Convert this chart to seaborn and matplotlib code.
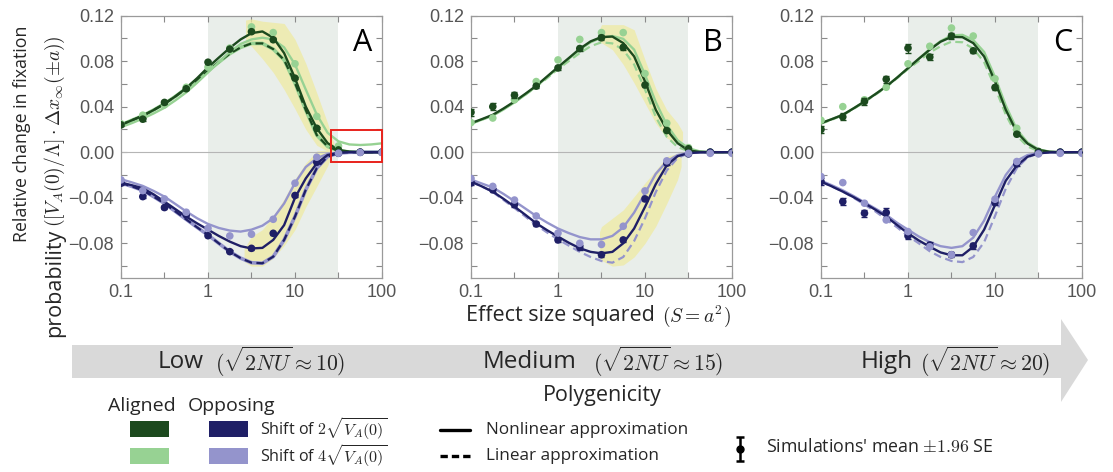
import matplotlib
matplotlib.use("Agg")
import matplotlib.pyplot as plt
import seaborn as sns
from matplotlib.patches import Rectangle, Polygon
from matplotlib.lines import Line2D
from matplotlib.ticker import FixedLocator, FixedFormatter, NullFormatter

sns.set_theme(style="ticks")
plt.rcParams["font.family"] = ["Open Sans", "DejaVu Sans"]
plt.rcParams["mathtext.fontset"] = "cm"

# ---------------------------------------------------------------- data
# effect size squared at the simulated points (quarter decades)
S_POINTS = [0.1, 0.178, 0.316, 0.562, 1.0, 1.78, 3.16, 5.62, 10.0, 17.8, 31.6, 56.2, 100.0]
# effect size squared used for the analytic curves (eighth decades)
S_CURVE = [0.1, 0.133, 0.178, 0.237, 0.316, 0.422, 0.562, 0.75, 1.0, 1.33, 1.78, 2.37,
           3.16, 4.22, 5.62, 7.5, 10.0, 13.3, 17.8, 23.7, 31.6, 42.2, 56.2, 75.0, 100.0]

# Panel A -- low polygenicity
A_ALN2 = [0.024, 0.028, 0.032, 0.037, 0.0425, 0.049, 0.0563, 0.065, 0.0745, 0.083, 0.0915, 0.099,
          0.1045, 0.106, 0.1005, 0.087, 0.065, 0.040, 0.021, 0.008, 0.002, 0.0005, 0, 0, 0]
A_ALN4 = [0.022, 0.0255, 0.0295, 0.034, 0.039, 0.0455, 0.0525, 0.061, 0.070, 0.079, 0.088, 0.095,
          0.099, 0.1005, 0.099, 0.092, 0.077, 0.055, 0.033, 0.017, 0.0095, 0.0068, 0.0063, 0.0068, 0.0078]
A_ALN_LIN = [0.024, 0.028, 0.032, 0.037, 0.0425, 0.049, 0.056, 0.0635, 0.0715, 0.079, 0.0865, 0.092,
             0.0955, 0.0955, 0.0905, 0.081, 0.0607, 0.037, 0.015, 0.005, 0.0012, 0.0002, 0, 0, 0]
A_OPP2 = [-0.0267, -0.029, -0.0316, -0.037, -0.0434, -0.050, -0.0565, -0.0625, -0.068, -0.0735, -0.0785, -0.0825,
          -0.0845, -0.084, -0.077, -0.064, -0.040, -0.023, -0.0097, -0.0025, -0.0005, 0, 0, 0, 0]
A_OPP4 = [-0.0237, -0.0265, -0.0296, -0.034, -0.039, -0.0455, -0.052, -0.058, -0.063, -0.0665, -0.0688, -0.0697,
          -0.068, -0.0645, -0.058, -0.045, -0.027, -0.013, -0.0053, -0.0015, -0.0003, 0, 0, 0, 0]
A_OPP_LIN = [-0.027, -0.030, -0.0335, -0.039, -0.045, -0.052, -0.059, -0.066, -0.0727, -0.080, -0.0873, -0.093,
             -0.097, -0.0975, -0.0917, -0.077, -0.0565, -0.033, -0.014, -0.0038, -0.0008, -0.0001, 0, 0, 0]
A_ALN2_PTS = [0.024, 0.029, 0.0437, 0.0557, 0.079, 0.0905, 0.1058, 0.0987, 0.065, 0.021, 0.002, 0.0, 0.0]
A_ALN4_PTS = [0.025, 0.0325, 0.0416, 0.057, 0.0747, 0.0914, 0.110, 0.105, 0.0776, 0.0314, 0.0055, 0.0, 0.0]
A_OPP2_PTS = [-0.0272, -0.039, -0.0486, -0.055, -0.0733, -0.0873, -0.0844, -0.0712, -0.038, -0.0088, -0.001, 0.0, 0.0]
A_OPP4_PTS = [-0.0243, -0.0337, -0.041, -0.0527, -0.0668, -0.0735, -0.072, -0.0589, -0.0272, -0.0044, -0.0009, -0.0003, -0.0003]
A_ALN2_ERR = [0.0012, 0.0012, 0.0012, 0.0012, 0.0012, 0.0012, 0.0012, 0.0012, 0.001, 0.001, 0.0005, 0, 0]
A_OPP2_ERR = [0.0012, 0.0012, 0.0012, 0.0012, 0.0012, 0.0012, 0.0012, 0.0012, 0.001, 0.001, 0.0005, 0, 0]
A_BAND_UP_S = [2.7, 3.16, 4.22, 5.62, 7.5, 10.0, 13.3, 17.8, 23.7, 28.0]
A_BAND_UP_HI = [0.116, 0.117, 0.115, 0.114, 0.113, 0.099, 0.078, 0.052, 0.0255, 0.008]
A_BAND_UP_LO = [0.096, 0.093, 0.082, 0.070, 0.055, 0.038, 0.020, 0.006, 0.001, 0.001]
A_BAND_DN_S = [2.6, 3.16, 4.22, 5.62, 7.5, 10.0, 13.3, 17.8, 23.7, 26.0]
A_BAND_DN_HI = [-0.085, -0.074, -0.068, -0.056, -0.041, -0.0235, -0.0095, 0.001, 0.002, 0.0]
A_BAND_DN_LO = [-0.096, -0.100, -0.100, -0.093, -0.082, -0.068, -0.048, -0.030, -0.012, -0.004]

# Panel B -- medium polygenicity
B_ALN2 = [0.0255, 0.029, 0.0328, 0.0384, 0.0445, 0.0513, 0.0583, 0.0665, 0.0747, 0.0826, 0.0908, 0.0973,
          0.1011, 0.1015, 0.0958, 0.0841, 0.0621, 0.0372, 0.0196, 0.0079, 0.0015, 0.0003, 0, 0, 0]
B_ALN4 = [0.025, 0.0285, 0.032, 0.0375, 0.0437, 0.0505, 0.0578, 0.0658, 0.074, 0.082, 0.090, 0.0965,
          0.1005, 0.102, 0.0995, 0.090, 0.068, 0.044, 0.024, 0.0105, 0.0035, 0.0008, 0.0002, 0, 0]
B_ALN_LIN = [0.025, 0.0285, 0.0325, 0.038, 0.044, 0.0505, 0.0575, 0.065, 0.073, 0.080, 0.087, 0.093,
             0.0965, 0.0955, 0.090, 0.077, 0.055, 0.031, 0.0135, 0.0045, 0.001, 0.0002, 0, 0, 0]
B_OPP2 = [-0.0258, -0.030, -0.0346, -0.041, -0.0478, -0.055, -0.0624, -0.0685, -0.0741, -0.0795, -0.0843, -0.0875,
          -0.0888, -0.0875, -0.080, -0.067, -0.048, -0.028, -0.0115, -0.0035, -0.0008, -0.0002, 0, 0, 0]
B_OPP4 = [-0.024, -0.0275, -0.031, -0.0367, -0.043, -0.0495, -0.056, -0.0618, -0.067, -0.071, -0.0745, -0.0765,
          -0.0765, -0.0735, -0.066, -0.053, -0.036, -0.019, -0.008, -0.0025, -0.0006, -0.0001, 0, 0, 0]
B_OPP_LIN = [-0.026, -0.030, -0.035, -0.042, -0.049, -0.0565, -0.064, -0.0705, -0.0765, -0.082, -0.0875, -0.092,
             -0.0955, -0.097, -0.092, -0.078, -0.058, -0.035, -0.016, -0.005, -0.001, -0.0002, 0, 0, 0]
B_ALN2_PTS = [0.035, 0.040, 0.050, 0.058, 0.074, 0.091, 0.1005, 0.092, 0.059, 0.019, 0.003, 0.0, 0.0]
B_ALN4_PTS = [0.026, 0.030, 0.046, 0.062, 0.081, 0.099, 0.105, 0.105, 0.069, 0.0255, 0.004, 0.0, 0.0]
B_OPP2_PTS = [-0.027, -0.033, -0.046, -0.063, -0.077, -0.0835, -0.090, -0.077, -0.041, -0.0097, -0.0015, 0.0, 0.0]
B_OPP4_PTS = [-0.023, -0.030, -0.042, -0.056, -0.071, -0.080, -0.081, -0.065, -0.034, -0.0076, -0.001, -0.001, -0.001]
B_ALN2_ERR = [0.003, 0.003, 0.0025, 0.002, 0.002, 0.002, 0.002, 0.002, 0.002, 0.0015, 0.001, 0, 0]
B_OPP2_ERR = [0.002, 0.002, 0.002, 0.002, 0.002, 0.002, 0.002, 0.002, 0.002, 0.0015, 0.001, 0, 0]
B_BAND_UP_S = [3.0, 3.16, 4.22, 5.62, 7.5, 10.0, 13.3, 17.8, 23.7, 27.0]
B_BAND_UP_HI = [0.108, 0.112, 0.112, 0.112, 0.1075, 0.081, 0.056, 0.037, 0.0255, 0.018]
B_BAND_UP_LO = [0.097, 0.096, 0.090, 0.077, 0.0607, 0.043, 0.0255, 0.0123, 0.008, 0.010]
B_BAND_DN_S = [3.0, 3.16, 4.22, 5.62, 7.5, 10.0, 13.3, 17.8, 23.7, 26.0]
B_BAND_DN_HI = [-0.070, -0.0653, -0.058, -0.0507, -0.039, -0.027, -0.016, -0.0038, -0.001, -0.001]
B_BAND_DN_LO = [-0.090, -0.095, -0.100, -0.099, -0.092, -0.080, -0.065, -0.045, -0.024, -0.0126]

# Panel C -- high polygenicity
C_ALN2 = [0.0255, 0.029, 0.0328, 0.0385, 0.0445, 0.051, 0.0577, 0.0655, 0.0738, 0.082, 0.090, 0.097,
          0.1012, 0.101, 0.0958, 0.084, 0.0621, 0.0372, 0.0176, 0.0075, 0.002, 0.0004, 0, 0, 0]
C_ALN4 = [0.0255, 0.029, 0.0328, 0.0385, 0.0445, 0.051, 0.0577, 0.0655, 0.0738, 0.082, 0.0905, 0.0975,
          0.1025, 0.103, 0.0985, 0.088, 0.066, 0.041, 0.020, 0.0085, 0.0025, 0.0005, 0, 0, 0]
C_ALN_LIN = [0.025, 0.0285, 0.0325, 0.038, 0.044, 0.0505, 0.057, 0.065, 0.073, 0.080, 0.0875, 0.093,
             0.097, 0.0965, 0.091, 0.079, 0.057, 0.033, 0.0145, 0.005, 0.001, 0.0002, 0, 0, 0]
C_OPP2 = [-0.0258, -0.030, -0.0346, -0.0395, -0.0448, -0.0505, -0.0565, -0.064, -0.0712, -0.0775, -0.083, -0.088,
          -0.0905, -0.0905, -0.083, -0.068, -0.0463, -0.025, -0.0117, -0.004, -0.001, -0.0002, 0, 0, 0]
C_OPP4 = [-0.025, -0.029, -0.0335, -0.0385, -0.044, -0.0495, -0.055, -0.062, -0.068, -0.074, -0.079, -0.0825,
          -0.084, -0.0825, -0.075, -0.060, -0.039, -0.020, -0.0075, -0.0025, -0.0006, -0.0001, 0, 0, 0]
C_OPP_LIN = [-0.026, -0.030, -0.0345, -0.040, -0.046, -0.052, -0.059, -0.066, -0.0735, -0.080, -0.087, -0.092,
             -0.0955, -0.0965, -0.092, -0.079, -0.056, -0.032, -0.014, -0.0045, -0.001, -0.0002, 0, 0, 0]
C_ALN2_PTS = [0.020, 0.031, 0.0445, 0.064, 0.0914, 0.0835, 0.102, 0.089, 0.0568, 0.0158, 0.0006, 0.0, 0.0]
C_ALN4_PTS = [0.028, 0.040, 0.046, 0.057, 0.0776, 0.093, 0.109, 0.102, 0.0645, 0.021, 0.0006, 0.0, 0.0]
C_OPP2_PTS = [-0.0258, -0.0434, -0.0536, -0.053, -0.0735, -0.0815, -0.090, -0.0823, -0.0442, -0.0103, -0.001, 0.0, 0.0]
C_OPP4_PTS = [-0.0214, -0.0267, -0.0448, -0.0595, -0.0697, -0.083, -0.090, -0.0706, -0.0413, -0.0082, -0.0015, -0.001, -0.001]
C_ALN2_ERR = [0.003, 0.003, 0.003, 0.003, 0.004, 0.003, 0.003, 0.002, 0.002, 0.002, 0.001, 0, 0]
C_OPP2_ERR = [0.003, 0.003, 0.003, 0.004, 0.003, 0.003, 0.002, 0.003, 0.002, 0.002, 0.001, 0, 0]

PANEL_LETTERS = ["A", "B", "C"]
REGIME_WORDS = ["Low", "Medium", "High"]
REGIME_VALUES = [10, 15, 20]
X_TICKS = [0.1, 1, 10, 100]
X_TICK_LABELS = ["0.1", "1", "10", "100"]
Y_TICKS = [-0.08, -0.04, 0.0, 0.04, 0.08, 0.12]
Y_TICK_LABELS = ["\u22120.08", "\u22120.04", "0.00", "0.04", "0.08", "0.12"]
SHADED_RANGE = (1.0, 31.6)
ZOOM_BOX = (25.7, -0.0083, 0.0279)   # left S, bottom y, height

# ---------------------------------------------------------------- style
DARK_GREEN = "#1c4a1e"
LIGHT_GREEN = "#97d293"
NAVY = "#1f1f66"
LILAC = "#9494cc"
SHADE = "#e9eeea"
YELLOW = "#efeaa2"
TICK_FONT = ["Liberation Sans", "DejaVu Sans"]

fig = plt.figure(figsize=(11.13, 4.72), dpi=100)
W, H = 1113, 472

# full-figure overlay used for the arrow, legend and shared labels (pixel coords)
ov = fig.add_axes([0, 0, 1, 1])
ov.set_xlim(0, W)
ov.set_ylim(H, 0)
ov.axis("off")

panel_lefts = [121, 471, 821]
panel_top, panel_w, panel_h = 15.5, 261, 262

panels = [
    dict(curves=(A_ALN2, A_ALN4, A_ALN_LIN, A_OPP2, A_OPP4, A_OPP_LIN),
         pts=(A_ALN2_PTS, A_ALN4_PTS, A_OPP2_PTS, A_OPP4_PTS), err=(A_ALN2_ERR, A_OPP2_ERR),
         bands=[(A_BAND_UP_S, A_BAND_UP_LO, A_BAND_UP_HI), (A_BAND_DN_S, A_BAND_DN_LO, A_BAND_DN_HI)],
         dark_dash=True),
    dict(curves=(B_ALN2, B_ALN4, B_ALN_LIN, B_OPP2, B_OPP4, B_OPP_LIN),
         pts=(B_ALN2_PTS, B_ALN4_PTS, B_OPP2_PTS, B_OPP4_PTS), err=(B_ALN2_ERR, B_OPP2_ERR),
         bands=[(B_BAND_UP_S, B_BAND_UP_LO, B_BAND_UP_HI), (B_BAND_DN_S, B_BAND_DN_LO, B_BAND_DN_HI)],
         dark_dash=False),
    dict(curves=(C_ALN2, C_ALN4, C_ALN_LIN, C_OPP2, C_OPP4, C_OPP_LIN),
         pts=(C_ALN2_PTS, C_ALN4_PTS, C_OPP2_PTS, C_OPP4_PTS), err=(C_ALN2_ERR, C_OPP2_ERR),
         bands=[], dark_dash=False),
]

axes = []
for k, (left, p) in enumerate(zip(panel_lefts, panels)):
    ax = fig.add_axes([left / W, 1 - (panel_top + panel_h) / H, panel_w / W, panel_h / H])
    axes.append(ax)
    ax.set_xscale("log")
    ax.set_xlim(0.1, 100)
    ax.set_ylim(-0.11, 0.12)
    ax.axvspan(*SHADED_RANGE, color=SHADE, lw=0, zorder=0)
    for s, lo, hi in p["bands"]:
        ax.fill_between(s, lo, hi, color=YELLOW, alpha=0.75, lw=0, zorder=1)
    ax.axhline(0, color="#b5b5b5", lw=0.8, zorder=1)

    aln2, aln4, aln_lin, opp2, opp4, opp_lin = p["curves"]
    # linear approximation (dashed)
    dash_pairs = [(aln_lin, LIGHT_GREEN, DARK_GREEN), (opp_lin, LILAC, NAVY)]
    for vals, light, dark in dash_pairs:
        if p["dark_dash"]:
            sns.lineplot(x=S_CURVE, y=vals, ax=ax, color=light, lw=2.6, zorder=2)
            sns.lineplot(x=S_CURVE, y=vals, ax=ax, color=dark, lw=1.6, linestyle=(0, (3.5, 2)), zorder=3)
        else:
            sns.lineplot(x=S_CURVE, y=vals, ax=ax, color=light, lw=1.6, linestyle=(0, (3.5, 2)), zorder=3)
    # nonlinear approximation (solid)
    for vals, col in [(aln4, LIGHT_GREEN), (opp4, LILAC), (aln2, DARK_GREEN), (opp2, NAVY)]:
        sns.lineplot(x=S_CURVE, y=vals, ax=ax, color=col, lw=1.7, zorder=4)

    # simulation means with error bars
    aln2_p, aln4_p, opp2_p, opp4_p = p["pts"]
    sns.scatterplot(x=S_POINTS, y=aln4_p, ax=ax, color=LIGHT_GREEN, s=30, edgecolor="none", zorder=5, legend=False)
    for vals, err, col in [(aln2_p, p["err"][0], DARK_GREEN), (opp2_p, p["err"][1], NAVY)]:
        ax.errorbar(S_POINTS, vals, yerr=err, fmt="none", ecolor=col, elinewidth=1.0, capsize=2.2,
                    capthick=1.0, zorder=5)
        sns.scatterplot(x=S_POINTS, y=vals, ax=ax, color=col, s=30, edgecolor="none", zorder=6, legend=False)
    sns.scatterplot(x=S_POINTS, y=opp4_p, ax=ax, color=LILAC, s=30, edgecolor="none", zorder=7, legend=False)

    # axes cosmetics
    ax.xaxis.set_major_locator(FixedLocator(X_TICKS))
    ax.xaxis.set_major_formatter(FixedFormatter(X_TICK_LABELS))
    ax.xaxis.set_minor_locator(FixedLocator([0.316, 3.16, 31.6]))
    ax.xaxis.set_minor_formatter(NullFormatter())
    ax.yaxis.set_major_locator(FixedLocator(Y_TICKS))
    ax.yaxis.set_major_formatter(FixedFormatter(Y_TICK_LABELS))
    ax.yaxis.set_minor_locator(FixedLocator([-0.10, -0.06, -0.02, 0.02, 0.06, 0.10]))
    ax.tick_params(which="both", direction="in", top=True, right=True, color="#8a8a8a",
                   width=0.8, labelcolor="#555555", labelsize=13, pad=5)
    ax.tick_params(which="major", length=4)
    ax.tick_params(which="minor", length=4)
    for lab in ax.get_xticklabels() + ax.get_yticklabels():
        lab.set_fontfamily(TICK_FONT)
    for sp in ax.spines.values():
        sp.set_color("#9a9a9a")
        sp.set_linewidth(0.9)
    ax.set_xlabel("")
    ax.set_ylabel("")
    ax.grid(False)
    ax.text(0.925, 0.895, PANEL_LETTERS[k], transform=ax.transAxes, ha="center", va="center",
            fontsize=22, color="black", zorder=10)

# highlighted region in panel A
zx, zy, zh = ZOOM_BOX
axes[0].add_patch(Rectangle((zx, zy), 100 - zx, zh, fill=False, edgecolor="#e8231c", lw=1.4,
                            zorder=12, clip_on=False))

# shared axis labels
ov.text(22, 134, "Relative change in fixation", rotation=90, ha="center", va="center", fontsize=12.8)
ov.text(55, 337, "probability", rotation=90, ha="center", va="bottom", fontsize=15.5)
ov.text(55, 227, r"$([V_A(0)/\Lambda]\cdot\Delta x_\infty(\pm a))$", rotation=90, ha="center",
        va="bottom", fontsize=14)
ov.text(655, 316, "Effect size squared", ha="right", va="center", fontsize=15.5)
ov.text(662, 316, r"$(S = a^2)$", ha="left", va="center", fontsize=14)

# polygenicity arrow
ov.add_patch(Polygon([(72, 345), (1061, 345), (1061, 319), (1088, 360), (1061, 402), (1061, 378), (72, 378)],
                     closed=True, facecolor="#d9d9d9", edgecolor="none"))
word_left = [158, 483, 861]
math_left = [215, 593, 920]
for word, val, xw, xm in zip(REGIME_WORDS, REGIME_VALUES, word_left, math_left):
    ov.text(xw, 362, word, ha="left", va="center", fontsize=17.5)
    ov.text(xm, 362, r"$(\sqrt{2NU}\approx %d)$" % val, ha="left", va="center", fontsize=15.7)
ov.text(602, 396, "Polygenicity", ha="center", va="center", fontsize=15.5)

# legend
ov.text(108, 406, "Aligned", ha="left", va="center", fontsize=14)
ov.text(188, 406, "Opposing", ha="left", va="center", fontsize=14)
for (x0, y0, col) in [(130, 421, DARK_GREEN), (130, 448, LIGHT_GREEN), (209, 421, NAVY), (209, 448, LILAC)]:
    ov.add_patch(Rectangle((x0, y0), 39, 16, facecolor=col, edgecolor="none"))
ov.text(260, 429, r"Shift of $2\sqrt{V_A(0)}$", ha="left", va="center", fontsize=11.6)
ov.text(260, 456, r"Shift of $4\sqrt{V_A(0)}$", ha="left", va="center", fontsize=11.6)
ov.add_line(Line2D([440, 470], [430, 430], color="black", lw=2.4))
ov.add_line(Line2D([440, 470], [456, 456], color="black", lw=2.4, linestyle=(0, (2.2, 1.2))))
ov.text(486, 430, "Nonlinear approximation", ha="left", va="center", fontsize=12.3)
ov.text(486, 456, "Linear approximation", ha="left", va="center", fontsize=12.3)
ov.errorbar([740], [449], yerr=[12], fmt="o", color="black", ms=5, elinewidth=1.8, capsize=3, capthick=1.8)
ov.text(766, 447, r"Simulations' mean $\pm1.96$ SE", ha="left", va="center", fontsize=12.8)

fig.savefig("out.png", dpi=100)
